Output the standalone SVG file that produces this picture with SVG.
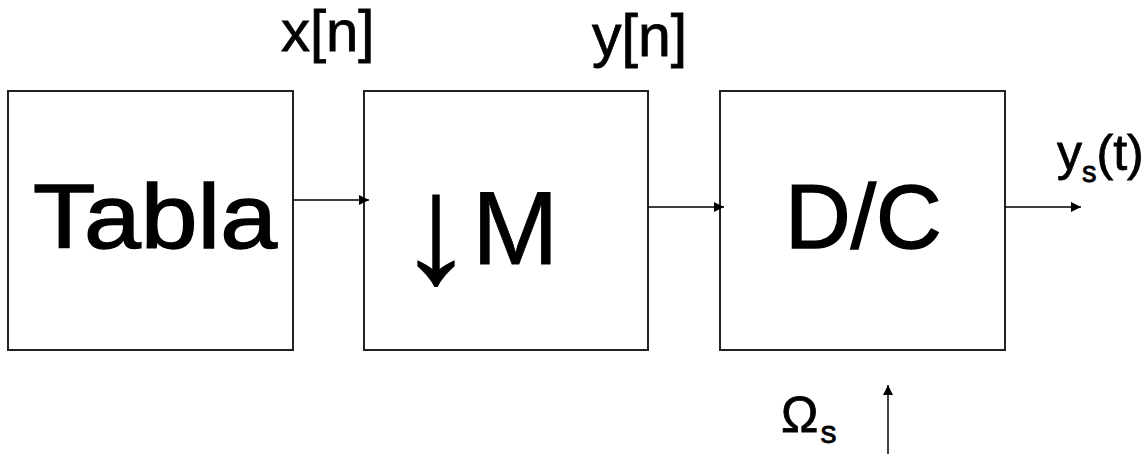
<svg xmlns="http://www.w3.org/2000/svg" width="1147" height="454" viewBox="0 0 1147 454">
<style>
.box{fill:#fff;stroke:#222;stroke-width:2}
.big{font-family:"Liberation Sans",Arial,sans-serif;font-size:91px;fill:#000;stroke:#000;stroke-width:1.5}
.lbl{font-family:"Liberation Sans",Arial,sans-serif;fill:#000;stroke:#000;stroke-width:0.8}
.con{stroke:#000;stroke-width:1.5;fill:none;marker-end:url(#ah)}
</style>
<defs>
<marker id="ah" viewBox="0 0 10 10" refX="10" refY="5" markerWidth="10" markerHeight="10" markerUnits="userSpaceOnUse" orient="auto">
<path d="M0,0 L10,5 L0,10 z" fill="#000"/>
</marker>
</defs>
<rect width="1147" height="454" fill="#fff"/>
<g id="tabla">
<rect class="box" x="8" y="91" width="285" height="259"/>
<text class="big" x="33" y="248" textLength="244" lengthAdjust="spacingAndGlyphs">Tabla</text>
</g>
<g id="downsample">
<rect class="box" x="364" y="91" width="284" height="259"/>
<text class="lbl" x="436" y="282" font-size="155" text-anchor="middle" stroke-width="2.5">↓</text>
<text class="lbl" x="472" y="264" font-size="104" stroke-width="2.5">M</text>
</g>
<g id="dc">
<rect class="box" x="720" y="91" width="285" height="259"/>
<text class="big" x="785" y="248">D/C</text>
</g>
<g id="connectors">
<line class="con" x1="293" y1="200" x2="369" y2="200"/>
<line class="con" x1="648" y1="207" x2="724" y2="207"/>
<line class="con" x1="1005" y1="207" x2="1081" y2="207"/>
<line class="con" x1="888" y1="454" x2="888" y2="385"/>
</g>
<g id="labels">
<text class="lbl" x="281" y="51" font-size="58">x[n]</text>
<text class="lbl" x="592" y="56" font-size="59">y[n]</text>
<text class="lbl" x="1057" y="170" font-size="50">y<tspan font-size="29" dy="12">s</tspan><tspan dy="-12">(t)</tspan></text>
<text class="lbl" x="781" y="432" font-size="50">Ω<tspan font-size="32" dx="2" dy="11">s</tspan></text>
</g>
</svg>
